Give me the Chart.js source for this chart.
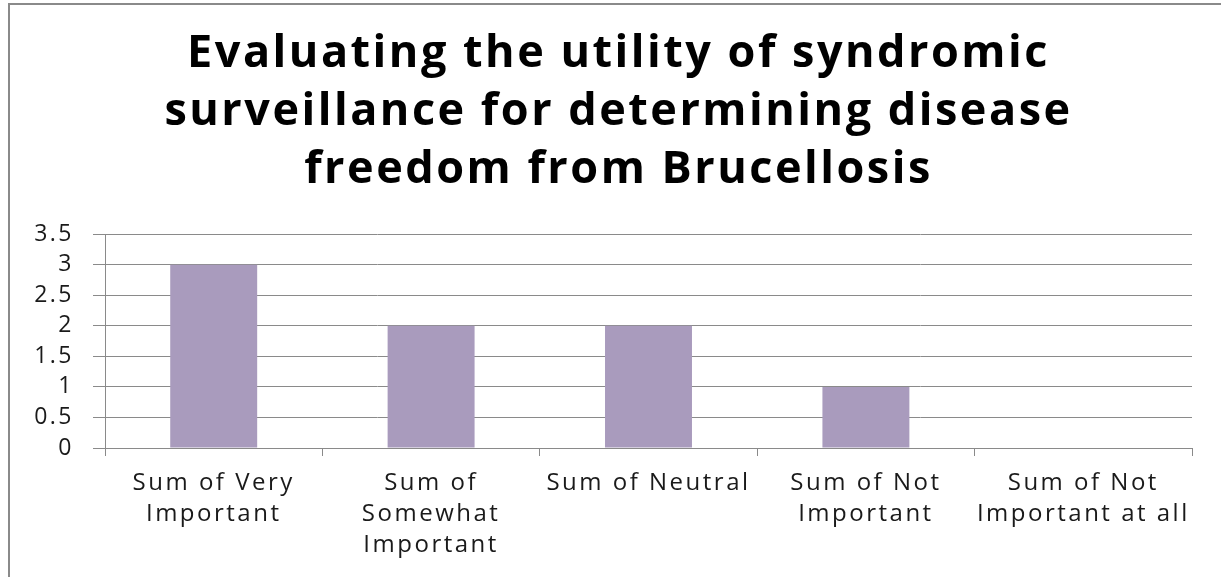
<!DOCTYPE html>
<html>
<head>
<meta charset="utf-8">
<script src="https://cdn.jsdelivr.net/npm/chart.js@4/dist/chart.umd.min.js"></script>
<style>
  html, body { margin: 0; padding: 0; background: #fff; overflow: hidden; }
  #frame { position: absolute; left: 8px; top: 3px; width: 1400px; height: 800px; border: 2.5px solid #8a8a8a; box-sizing: border-box; }
  #wrap { position: absolute; left: 0; top: 0; width: 1221px; height: 577px; }
</style>
</head>
<body>
<div id="frame"></div>
<div id="wrap"><canvas id="c" width="1221" height="577"></canvas></div>
<script>
const titleLines = ["Evaluating the utility of syndromic", "surveillance for determining disease", "freedom from Brucellosis"];
const categories = [
  ["Sum of Very", "Important"],
  ["Sum of", "Somewhat", "Important"],
  ["Sum of Neutral"],
  ["Sum of Not", "Important"],
  ["Sum of Not", "Important at all"]
];
const values = [3, 2, 2, 1, 0];
const yTicks = [0, 0.5, 1, 1.5, 2, 2.5, 3, 3.5];
const yTickLabels = ["0", "0.5", "1", "1.5", "2", "2.5", "3", "3.5"];

const FONT = "'Open Sans', sans-serif";
const GRID = "#8a8a8a";

const spacingPlugin = {
  id: "spacing",
  afterLayout(chart) {
    if (chart.titleBlock) { chart.titleBlock.left = 16; chart.titleBlock.right = 1221; }
  },
  beforeDraw(chart) { chart.ctx.letterSpacing = "2.5px"; }
};

new Chart(document.getElementById("c"), {
  type: "bar",
  data: {
    labels: categories,
    datasets: [{
      data: values,
      backgroundColor: "#A99BBD",
      borderWidth: 0,
      barPercentage: 0.4,
      categoryPercentage: 1.0
    }]
  },
  plugins: [spacingPlugin],
  options: {
    responsive: false,
    animation: false,
    layout: { padding: { left: 0, right: 29, top: 0, bottom: 0 } },
    plugins: {
      legend: { display: false },
      tooltip: { enabled: false },
      title: {
        display: true,
        text: titleLines,
        color: "#000",
        font: { family: FONT, size: 45, weight: "bold", lineHeight: 1.29 },
        padding: { top: 25, bottom: 35 }
      }
    },
    scales: {
      x: {
        offset: true,
        grid: { display: true, drawOnChartArea: false, drawTicks: true, tickLength: 8, color: GRID, offset: true },
        border: { display: true, color: GRID, width: 1 },
        ticks: { color: "#1a1a1a", font: { family: FONT, size: 24, lineHeight: 1.31 }, padding: 11, maxRotation: 0, autoSkip: false },
        afterFit: (s) => { s.height = 129; }
      },
      y: {
        min: 0, max: 3.5,
        afterBuildTicks: (s) => { s.ticks = yTicks.map(v => ({ value: v })); },
        grid: { color: GRID, tickLength: 12, drawTicks: true },
        border: { display: true, color: GRID, width: 1 },
        ticks: {
          color: "#1a1a1a", font: { family: FONT, size: 23, lineHeight: 1.0 }, padding: 19, autoSkip: false,
          callback: (v, i) => yTickLabels[i]
        },
        afterFit: (s) => { s.width = 105; }
      }
    }
  }
});
</script>
</body>
</html>
